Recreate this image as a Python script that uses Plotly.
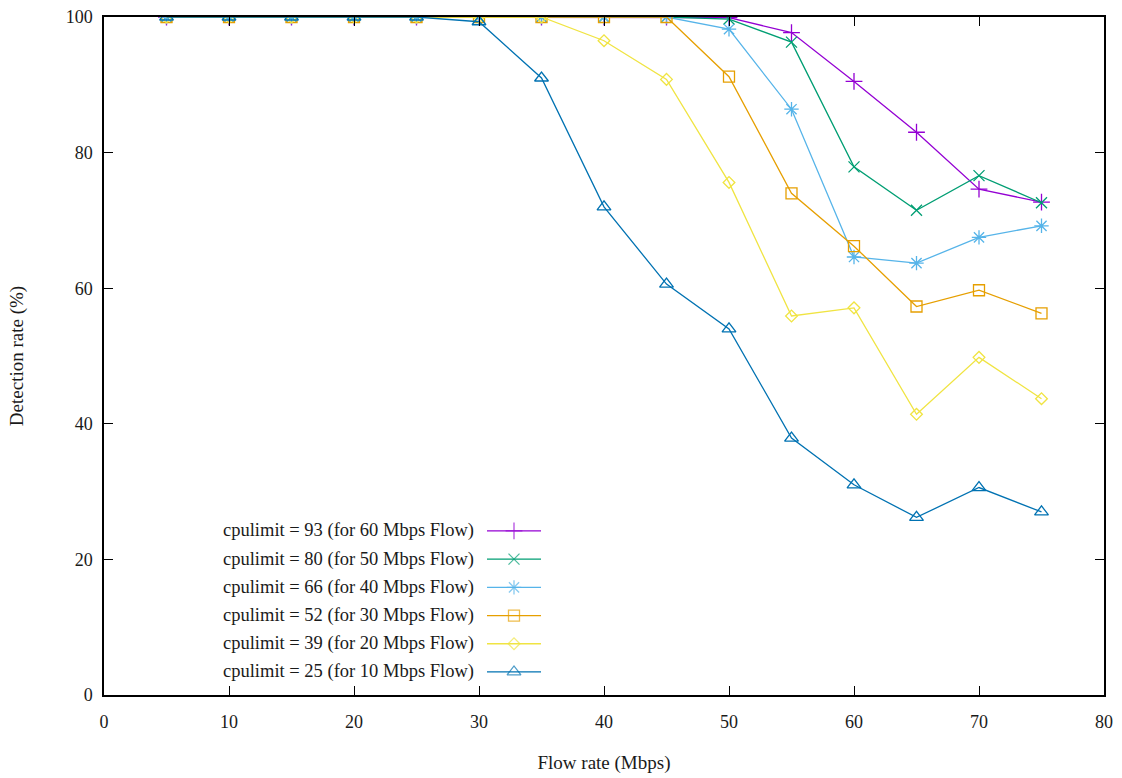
import plotly.graph_objects as go

# Flow rates tested (Mbps)
flow_rate = [5, 10, 15, 20, 25, 30, 35, 40, 45, 50, 55, 60, 65, 70, 75]

# Detection rate (%) for each cpulimit setting
det_93 = [100, 100, 100, 100, 100, 100, 100, 100, 100, 99.9, 97.7, 90.5, 83.0, 74.6, 72.7]
det_80 = [100, 100, 100, 100, 100, 100, 100, 100, 100, 99.7, 96.3, 77.9, 71.5, 76.6, 72.6]
det_66 = [100, 100, 100, 100, 100, 100, 100, 100, 100, 98.2, 86.4, 64.6, 63.7, 67.5, 69.2]
det_52 = [100, 100, 100, 100, 100, 100, 100, 100, 100, 91.2, 74.0, 66.2, 57.3, 59.7, 56.3]
det_39 = [100, 100, 100, 100, 100, 100, 100, 96.5, 90.8, 75.6, 55.9, 57.1, 41.4, 49.8, 43.7]
det_25 = [100, 100, 100, 100, 100, 99.3, 91.0, 72.0, 60.6, 54.0, 37.9, 31.0, 26.2, 30.6, 27.0]

series_names = [
    "cpulimit = 93 (for 60 Mbps Flow)",
    "cpulimit = 80 (for 50 Mbps Flow)",
    "cpulimit = 66 (for 40 Mbps Flow)",
    "cpulimit = 52 (for 30 Mbps Flow)",
    "cpulimit = 39 (for 20 Mbps Flow)",
    "cpulimit = 25 (for 10 Mbps Flow)",
]
series_values = [det_93, det_80, det_66, det_52, det_39, det_25]
colors = ["#9400d3", "#009e73", "#56b4e9", "#e69f00", "#f0e442", "#0072b2"]
symbols = ["cross-thin-open", "x-thin-open", "asterisk-open",
           "square-open", "diamond-open", "triangle-up-open"]
marker_sizes = [12, 11, 12, 11, 9, 12]

x_ticks = [0, 10, 20, 30, 40, 50, 60, 70, 80]
y_ticks = [0, 20, 40, 60, 80, 100]

FONT = "Liberation Serif"
TEXT_COLOR = "#1a1a1a"

fig = go.Figure()

for name, vals, col, sym, ms in zip(series_names, series_values, colors, symbols, marker_sizes):
    fig.add_trace(go.Scatter(
        x=flow_rate, y=vals, mode="lines+markers", name=name,
        line=dict(color=col, width=1.3),
        marker=dict(symbol=sym, size=ms, color=col, line=dict(color=col, width=1.3)),
        showlegend=False,
    ))

# Key placed inside the plot: label text followed by a line/marker sample
key_text_right = 0.372     # paper x where labels end
key_line = (0.383, 0.437)  # paper x span of sample line
key_top = 0.242            # paper y of first row
key_step = 0.0416          # row spacing (paper units)
for i, (name, col, sym, ms) in enumerate(zip(series_names, colors, symbols, marker_sizes)):
    yk = key_top - i * key_step
    fig.add_annotation(
        x=key_text_right, y=yk, xref="paper", yref="paper",
        text=name, showarrow=False, xanchor="right", yanchor="middle",
        font=dict(family=FONT, size=18.5, color=TEXT_COLOR),
    )
    fig.add_trace(go.Scatter(
        x=[key_line[0], sum(key_line) / 2, key_line[1]], y=[yk, yk, yk],
        xaxis="x2", yaxis="y2", mode="lines+markers",
        line=dict(color=col, width=1.3),
        marker=dict(symbol=sym, size=[0, ms, 0], color=col, line=dict(color=col, width=1.3)),
        showlegend=False, hoverinfo="skip",
    ))

axis_common = dict(
    showline=True, linecolor="black", linewidth=1.5, mirror="ticks",
    ticks="inside", ticklen=9, tickwidth=1, tickcolor="black",
    showgrid=False, zeroline=False, automargin=False,
    tickfont=dict(family=FONT, size=18, color=TEXT_COLOR),
)

fig.update_layout(
    width=1122, height=778,
    margin=dict(l=104, r=18, t=17, b=83),
    paper_bgcolor="white", plot_bgcolor="white",
    xaxis=dict(range=[0, 80], tickvals=x_ticks, ticklabelstandoff=10,
               title=dict(text="Flow rate (Mbps)", standoff=24,
                          font=dict(family=FONT, size=19, color=TEXT_COLOR)),
               **axis_common),
    yaxis=dict(range=[0, 100], tickvals=y_ticks, ticklabelstandoff=6,
               title=dict(text="Detection rate (%)", standoff=37,
                          font=dict(family=FONT, size=19, color=TEXT_COLOR)),
               **axis_common),
    xaxis2=dict(range=[0, 1], overlaying="x", visible=False, fixedrange=True),
    yaxis2=dict(range=[0, 1], overlaying="y", visible=False, fixedrange=True),
)

fig.write_html("out.html")
